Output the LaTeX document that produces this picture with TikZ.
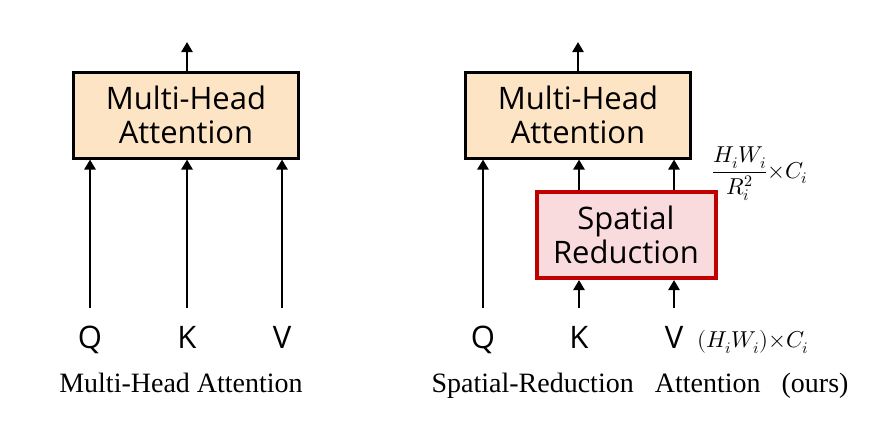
\documentclass[tikz,border=0pt]{standalone}
\usepackage{fontspec}
\usepackage{unicode-math}
\setmainfont{Liberation Serif}
\setmathfont{Latin Modern Math}
\newfontfamily\blockfont{Open Sans}
\usetikzlibrary{arrows.meta}
\definecolor{peach}{RGB}{252,228,196}
\definecolor{srpink}{RGB}{250,219,221}
\definecolor{srred}{RGB}{192,0,0}
\tikzstyle{attn}=[draw, line width=3pt, fill=peach, minimum width=225pt, minimum height=86pt, align=center, font=\blockfont\fontsize{31}{34}\selectfont]
\tikzstyle{sred}=[draw=srred, line width=4pt, fill=srpink, minimum width=179pt, minimum height=86pt, align=center, font=\blockfont\fontsize{31}{34}\selectfont]
\tikzstyle{kqv}=[inner xsep=0pt, inner ysep=18pt, text height=22pt, text depth=0pt, font=\blockfont\fontsize{31}{34}\selectfont]
\tikzstyle{dim}=[inner sep=0pt, font=\fontsize{23}{27}\selectfont]
\tikzstyle{caption}=[inner sep=0pt, anchor=base, font=\fontsize{28}{34}\selectfont]
\tikzstyle{arr}=[line width=2.5pt, -{Triangle[width=11pt,length=10pt]}]

\begin{document}
\begin{tikzpicture}[x=1pt, y=-1pt]
\useasboundingbox (0,0) rectangle (882,432);
% Plain attention
    \node[attn] (mhaL) at (186,115) {Multi-Head\\Attention};
    \node[kqv] (qL) at (90,337) {Q};
    \node[kqv] (kL) at (187,337) {K};
    \node[kqv] (vL) at (282,337) {V};
    \coordinate (outL) at (187,42);
    \draw[arr] (qL.north) -- (qL.north |- mhaL.south);
    \draw[arr] (kL.north) -- (kL.north |- mhaL.south);
    \draw[arr] (vL.north) -- (vL.north |- mhaL.south);
    \draw[arr] (mhaL.north -| outL) -- (outL);
    \node[caption] (capL) at (181,392) {Multi-Head Attention};
% Spatial-reduction attention
    \node[attn] (mhaR) at (578,115) {Multi-Head\\Attention};
    \node[sred] (sr) at (626,235) {Spatial\\Reduction};
    \node[kqv] (qR) at (483,337) {Q};
    \node[kqv] (kR) at (579,337) {K};
    \node[kqv] (vR) at (674,337) {V};
    \coordinate (outR) at (578,42);
    \draw[arr] (qR.north) -- (qR.north |- mhaR.south);
    \draw[arr] (kR.north) -- (kR.north |- sr.south);
    \draw[arr] (vR.north) -- (vR.north |- sr.south);
    \draw[arr] (sr.north -| kR) -- (mhaR.south -| kR);
    \draw[arr] (sr.north -| vR) -- (mhaR.south -| vR);
    \draw[arr] (mhaR.north -| outR) -- (outR);
% Shapes
    \node[dim] (dimsr) at (760,174) {$\displaystyle\frac{H_iW_i}{R_i^2}{\times}C_i$};
    \node[dim] (dimin) at (753,342) {$(H_iW_i){\times}C_i$};
    \node[caption] (capR) at (640,392) {Spatial-Reduction\hspace{0.5em} Attention\hspace{0.5em} (ours)};
\end{tikzpicture}
\end{document}
